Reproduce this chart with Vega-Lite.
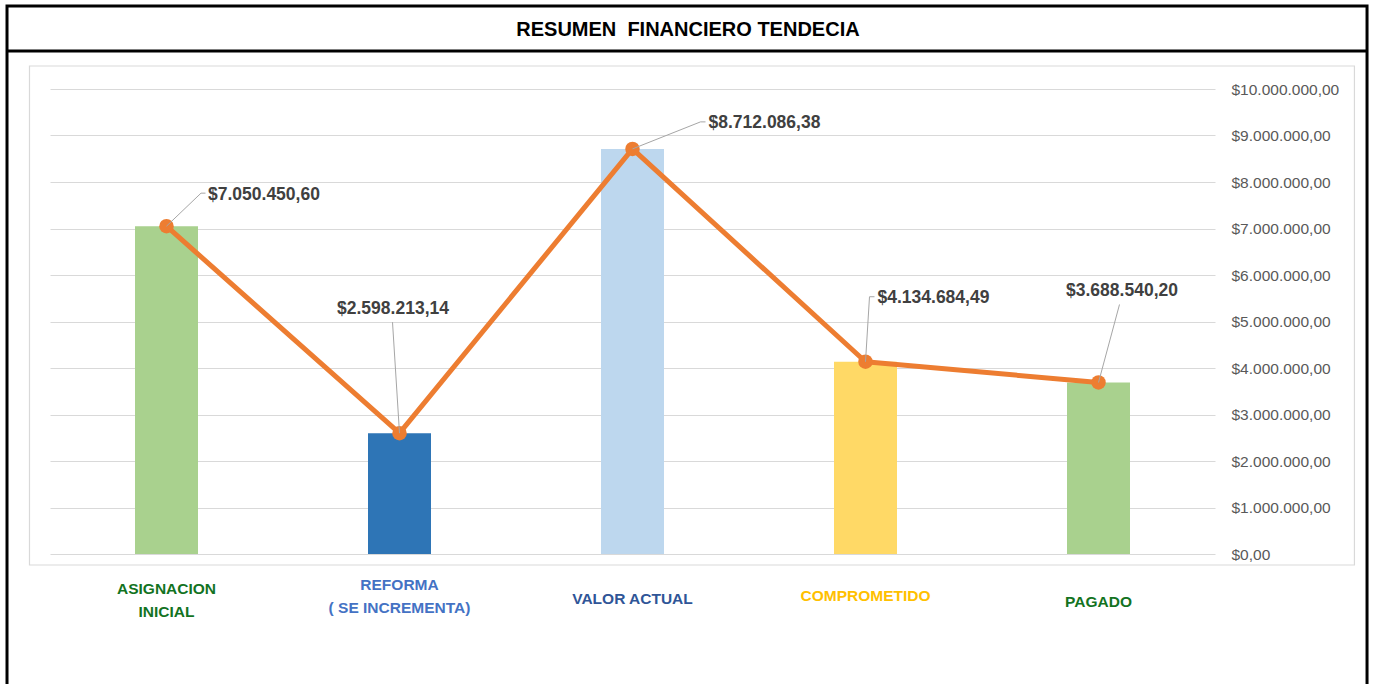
{
  "$schema": "https://vega.github.io/schema/vega-lite/v6.json",
  "width": 1165,
  "height": 465,
  "autosize": "none",
  "padding": {"left": 50, "top": 89, "right": 158, "bottom": 130},
  "background": "white",
  "config": {
    "view": {"stroke": null},
    "locale": {
      "number": {"decimal": ",", "thousands": ".", "grouping": [3], "currency": ["$", ""]}
    },
    "font": "Liberation Sans"
  },
  "datasets": {
    "resumen": [
      {"categoria": "ASIGNACION INICIAL", "valor": 7050450.60},
      {"categoria": "REFORMA ( SE INCREMENTA)", "valor": 2598213.14},
      {"categoria": "VALOR ACTUAL", "valor": 8712086.38},
      {"categoria": "COMPROMETIDO", "valor": 4134684.49},
      {"categoria": "PAGADO", "valor": 3688540.20}
    ]
  },
  "resolve": {"scale": {"x": "independent", "y": "independent"}},
  "layer": [
    {
      "data": {"values": [{"titulo": "RESUMEN \u00a0FINANCIERO TENDECIA"}]},
      "layer": [
        {
          "mark": {"type": "rect", "fill": null, "stroke": "#D9D9D9", "strokeWidth": 1.2},
          "encoding": {
            "x": {"datum": -0.0176, "type": "quantitative", "scale": {"domain": [0, 1], "nice": false, "zero": false}, "axis": null},
            "x2": {"datum": 1.1197},
            "y": {"datum": 1.0495, "type": "quantitative", "scale": {"domain": [0, 1], "nice": false, "zero": false}, "axis": null},
            "y2": {"datum": -0.0237}
          }
        },
        {
          "mark": {"type": "rect", "fill": null, "stroke": "black", "strokeWidth": 3},
          "encoding": {
            "x": {"datum": -0.0369, "type": "quantitative"},
            "x2": {"datum": 1.1305},
            "y": {"datum": 1.1785, "type": "quantitative"},
            "y2": {"datum": -0.36}
          }
        },
        {
          "mark": {"type": "rule", "stroke": "black", "strokeWidth": 3},
          "encoding": {
            "x": {"datum": -0.0369, "type": "quantitative"},
            "x2": {"datum": 1.1305},
            "y": {"datum": 1.0817, "type": "quantitative"}
          }
        },
        {
          "mark": {"type": "text", "fontSize": 20, "fontWeight": "bold", "color": "black", "align": "center", "baseline": "middle"},
          "encoding": {
            "x": {"datum": 0.5476, "type": "quantitative"},
            "y": {"datum": 1.127, "type": "quantitative"},
            "text": {"field": "titulo"}
          }
        }
      ]
    },
    {
      "data": {"name": "resumen"},
      "encoding": {
        "x": {
          "field": "categoria",
          "type": "nominal",
          "sort": null,
          "scale": {"paddingInner": 0, "paddingOuter": 0},
          "axis": {
            "orient": "bottom",
            "title": null,
            "labelAngle": 0,
            "domain": false,
            "ticks": false,
            "tickSize": 0,
            "labelPadding": {
              "condition": [
                {"test": "datum.value == 'ASIGNACION INICIAL'", "value": 34},
                {"test": "datum.value == 'REFORMA ( SE INCREMENTA)'", "value": 30},
                {"test": "datum.value == 'COMPROMETIDO'", "value": 41},
                {"test": "datum.value == 'PAGADO'", "value": 47}
              ],
              "value": 44
            },
            "labelBaseline": "middle",
            "labelFontSize": 15.5,
            "labelFontWeight": "bold",
            "labelFont": "Liberation Sans",
            "labelLineHeight": 23,
            "labelExpr": "datum.value == 'ASIGNACION INICIAL' ? ['ASIGNACION', 'INICIAL'] : datum.value == 'REFORMA ( SE INCREMENTA)' ? ['REFORMA', '( SE INCREMENTA)'] : datum.value",
            "labelColor": {
              "condition": [
                {"test": "datum.value == 'REFORMA ( SE INCREMENTA)'", "value": "#4472C4"},
                {"test": "datum.value == 'VALOR ACTUAL'", "value": "#2F5597"},
                {"test": "datum.value == 'COMPROMETIDO'", "value": "#FFC000"}
              ],
              "value": "#13731F"
            }
          }
        },
        "y": {
          "field": "valor",
          "type": "quantitative",
          "scale": {"domain": [0, 10000000], "nice": false},
          "axis": {
            "orient": "right",
            "title": null,
            "values": [0, 1000000, 2000000, 3000000, 4000000, 5000000, 6000000, 7000000, 8000000, 9000000, 10000000],
            "format": "$,.2f",
            "domain": false,
            "ticks": false,
            "tickSize": 0,
            "labelPadding": 16,
            "labelFontSize": 15.5,
            "labelColor": "#595959",
            "labelFont": "Liberation Sans",
            "grid": true,
            "gridColor": "#D9D9D9",
            "gridWidth": 1
          }
        }
      },
      "layer": [
        {
          "mark": {"type": "bar", "size": 63},
          "encoding": {
            "color": {
              "field": "categoria",
              "type": "nominal",
              "scale": {
                "domain": ["ASIGNACION INICIAL", "REFORMA ( SE INCREMENTA)", "VALOR ACTUAL", "COMPROMETIDO", "PAGADO"],
                "range": ["#A9D18E", "#2E75B6", "#BDD7EE", "#FFD966", "#A9D18E"]
              },
              "legend": null
            }
          }
        },
        {
          "mark": {"type": "line", "color": "#ED7D31", "strokeWidth": 5, "strokeJoin": "round", "strokeCap": "round"},
          "encoding": {}
        },
        {
          "mark": {"type": "point", "filled": true, "size": 210, "color": "#ED7D31", "opacity": 1},
          "encoding": {}
        },
        {
          "transform": [{"filter": "datum.categoria == 'ASIGNACION INICIAL'"}],
          "layer": [
            {
              "mark": {"type": "rule", "color": "#A6A6A6", "strokeWidth": 1, "x2Offset": 34.5, "y2Offset": -33},
              "encoding": {"x": {"field": "categoria", "type": "nominal", "bandPosition": 0.5}, "x2": {"field": "categoria", "bandPosition": 0.5}, "y2": {"field": "valor"}}
            },
            {
              "mark": {"type": "rule", "color": "#A6A6A6", "strokeWidth": 1, "xOffset": 34.5, "yOffset": -33, "x2Offset": 39, "y2Offset": -33},
              "encoding": {"x": {"field": "categoria", "type": "nominal", "bandPosition": 0.5}, "x2": {"field": "categoria", "bandPosition": 0.5}, "y2": {"field": "valor"}}
            },
            {
              "mark": {"type": "text", "align": "left", "baseline": "middle", "dx": 41.5, "dy": -31, "fontSize": 17.5, "fontWeight": "bold", "color": "#404040"},
              "encoding": {"text": {"field": "valor", "type": "quantitative", "format": "$,.2f"}}
            }
          ]
        },
        {
          "transform": [{"filter": "datum.categoria == 'REFORMA ( SE INCREMENTA)'"}],
          "layer": [
            {
              "mark": {"type": "rule", "color": "#A6A6A6", "strokeWidth": 1, "x2Offset": -7, "y2Offset": -111},
              "encoding": {"x": {"field": "categoria", "type": "nominal", "bandPosition": 0.5}, "x2": {"field": "categoria", "bandPosition": 0.5}, "y2": {"field": "valor"}}
            },
            {
              "mark": {"type": "text", "align": "center", "baseline": "middle", "dx": -6.5, "dy": -124, "fontSize": 17.5, "fontWeight": "bold", "color": "#404040"},
              "encoding": {"text": {"field": "valor", "type": "quantitative", "format": "$,.2f"}}
            }
          ]
        },
        {
          "transform": [{"filter": "datum.categoria == 'VALOR ACTUAL'"}],
          "layer": [
            {
              "mark": {"type": "rule", "color": "#A6A6A6", "strokeWidth": 1, "x2Offset": 68, "y2Offset": -27},
              "encoding": {"x": {"field": "categoria", "type": "nominal", "bandPosition": 0.5}, "x2": {"field": "categoria", "bandPosition": 0.5}, "y2": {"field": "valor"}}
            },
            {
              "mark": {"type": "rule", "color": "#A6A6A6", "strokeWidth": 1, "xOffset": 68, "yOffset": -27, "x2Offset": 73, "y2Offset": -27},
              "encoding": {"x": {"field": "categoria", "type": "nominal", "bandPosition": 0.5}, "x2": {"field": "categoria", "bandPosition": 0.5}, "y2": {"field": "valor"}}
            },
            {
              "mark": {"type": "text", "align": "left", "baseline": "middle", "dx": 76, "dy": -26, "fontSize": 17.5, "fontWeight": "bold", "color": "#404040"},
              "encoding": {"text": {"field": "valor", "type": "quantitative", "format": "$,.2f"}}
            }
          ]
        },
        {
          "transform": [{"filter": "datum.categoria == 'COMPROMETIDO'"}],
          "layer": [
            {
              "mark": {"type": "rule", "color": "#A6A6A6", "strokeWidth": 1, "x2Offset": 4, "y2Offset": -65},
              "encoding": {"x": {"field": "categoria", "type": "nominal", "bandPosition": 0.5}, "x2": {"field": "categoria", "bandPosition": 0.5}, "y2": {"field": "valor"}}
            },
            {
              "mark": {"type": "rule", "color": "#A6A6A6", "strokeWidth": 1, "xOffset": 4, "yOffset": -65, "x2Offset": 9, "y2Offset": -65},
              "encoding": {"x": {"field": "categoria", "type": "nominal", "bandPosition": 0.5}, "x2": {"field": "categoria", "bandPosition": 0.5}, "y2": {"field": "valor"}}
            },
            {
              "mark": {"type": "text", "align": "left", "baseline": "middle", "dx": 12, "dy": -64, "fontSize": 17.5, "fontWeight": "bold", "color": "#404040"},
              "encoding": {"text": {"field": "valor", "type": "quantitative", "format": "$,.2f"}}
            }
          ]
        },
        {
          "transform": [{"filter": "datum.categoria == 'PAGADO'"}],
          "layer": [
            {
              "mark": {"type": "rule", "color": "#A6A6A6", "strokeWidth": 1, "x2Offset": 21, "y2Offset": -78},
              "encoding": {"x": {"field": "categoria", "type": "nominal", "bandPosition": 0.5}, "x2": {"field": "categoria", "bandPosition": 0.5}, "y2": {"field": "valor"}}
            },
            {
              "mark": {"type": "text", "align": "center", "baseline": "middle", "dx": 23.5, "dy": -91, "fontSize": 17.5, "fontWeight": "bold", "color": "#404040"},
              "encoding": {"text": {"field": "valor", "type": "quantitative", "format": "$,.2f"}}
            }
          ]
        }
      ]
    }
  ]
}
